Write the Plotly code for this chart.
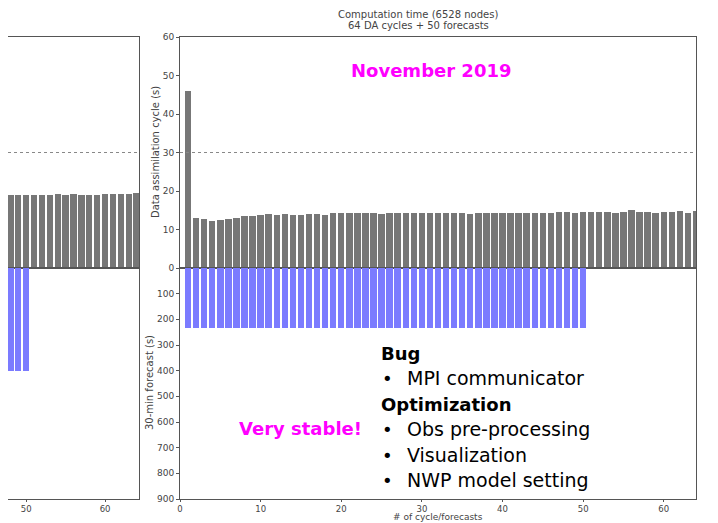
import plotly.graph_objects as go

# November 2019 run (right panel)
cycles = list(range(1, 65))
da_nov = [46.0, 12.9, 12.7, 12.3, 12.5, 12.8, 13.1, 13.5, 13.5, 13.7,
          13.9, 13.8, 13.9, 13.8, 13.7, 13.9, 13.9, 13.7, 14.3, 14.3,
          14.3, 14.2, 14.3, 14.2, 14.1, 14.3, 14.2, 14.2, 14.3, 14.3,
          14.3, 14.3, 14.2, 14.3, 14.2, 14.0, 14.3, 14.3, 14.3, 14.2,
          14.3, 14.2, 14.3, 14.3, 14.3, 14.4, 14.5, 14.5, 14.4, 14.6,
          14.6, 14.5, 14.5, 14.3, 14.5, 15.0, 14.6, 14.5, 14.4, 14.5,
          14.6, 14.8, 14.4, 14.8]
fc_cycles = list(range(1, 51))
fc_nov = [235, 235, 235, 235, 235, 235, 235, 235, 235, 235,
          235, 235, 235, 235, 235, 235, 235, 235, 235, 235,
          235, 235, 235, 235, 235, 235, 235, 235, 235, 235,
          235, 235, 235, 235, 235, 235, 235, 235, 235, 235,
          235, 235, 235, 235, 235, 235, 235, 235, 235, 235]

# previous run (left panel, only the visible tail)
prev_cycles = list(range(48, 65))
da_prev = [18.9, 18.9, 18.9, 18.9, 18.9, 18.9, 19.1, 19.0, 19.1, 19.0,
           18.9, 19.0, 19.1, 19.2, 19.3, 19.3, 19.4]
prev_fc_cycles = [48, 49, 50]
fc_prev = [400, 400, 400]

x_ticks = [0, 10, 20, 30, 40, 50, 60]
da_ticks = [0, 10, 20, 30, 40, 50, 60]
fc_ticks = [100, 200, 300, 400, 500, 600, 700, 800, 900]

W, H = 718, 523
OFF = 8  # page body margin of the browser
FONT = "DejaVu Sans, sans-serif"
GRAY = "#777777"
BLUE = "#7b7bff"
LINE = "#555555"
MAGENTA = "#ff00ff"


def px_x(p):
    return (p - OFF) / W


def px_y(p):
    return 1 - (p - OFF) / H


def note(fig, x, y, text, size, color="#444", xanchor="center", angle=0):
    fig.add_annotation(x=px_x(x), y=px_y(y), xref="paper", yref="paper",
                       text=text, showarrow=False, textangle=angle,
                       xanchor=xanchor, yanchor="middle", align="center",
                       font=dict(family=FONT, size=size, color=color))


top_dom = [px_y(268), px_y(37)]
bot_dom = [px_y(499), px_y(268)]
right_dom = [px_x(180), px_x(696)]
left_dom = [max(px_x(8), 0), px_x(139)]

fig = go.Figure()
fig.add_trace(go.Bar(x=cycles, y=da_nov, width=0.8, marker_color=GRAY,
                     marker_line_width=0, xaxis="x", yaxis="y"))
fig.add_trace(go.Bar(x=fc_cycles, y=fc_nov, width=0.8, marker_color=BLUE,
                     marker_line_width=0, xaxis="x2", yaxis="y2"))
fig.add_trace(go.Bar(x=prev_cycles, y=da_prev, width=0.8, marker_color=GRAY,
                     marker_line_width=0, xaxis="x3", yaxis="y3"))
fig.add_trace(go.Bar(x=prev_fc_cycles, y=fc_prev, width=0.8, marker_color=BLUE,
                     marker_line_width=0, xaxis="x4", yaxis="y4"))

tickfont = dict(family=FONT, size=9, color="#444")
base = dict(showline=True, linecolor=LINE, linewidth=1, showgrid=False,
            zeroline=False, automargin=False)
ticked = dict(tickfont=tickfont, ticks="outside", ticklen=3, tickcolor=LINE)
xticked = dict(tickfont=dict(family=FONT, size=8.5, color="#444"),
               ticks="outside", ticklen=2, tickcolor=LINE)
hidden = dict(showticklabels=False, ticks="")

fig.update_layout(
    width=W, height=H,
    margin=dict(l=0, r=0, t=0, b=0, autoexpand=False),
    paper_bgcolor="white", plot_bgcolor="white",
    showlegend=False, bargap=0,
    font=dict(family=FONT, size=10, color="#333"),
    xaxis=dict(domain=right_dom, anchor="y", range=[0, 64], mirror=True,
               **base, **hidden),
    yaxis=dict(domain=top_dom, anchor="x", range=[0, 60], tickvals=da_ticks,
               mirror=True, **base, **ticked),
    xaxis2=dict(domain=right_dom, anchor="y2", range=[0, 64], tickvals=x_ticks,
                mirror=True, **base, **xticked),
    yaxis2=dict(domain=bot_dom, anchor="x2", range=[900, 0], tickvals=fc_ticks,
                mirror=True, **base, **ticked),
    xaxis3=dict(domain=left_dom, anchor="y3", range=[47.7, 64.3], mirror=True,
                **base, **hidden),
    yaxis3=dict(domain=top_dom, anchor="x3", range=[0, 60], side="right",
                **base, **hidden),
    xaxis4=dict(domain=left_dom, anchor="y4", range=[47.7, 64.3], tickvals=[50, 60],
                mirror=True, **base, **xticked),
    yaxis4=dict(domain=bot_dom, anchor="x4", range=[900, 0], side="right",
                **base, **hidden),
)

# 30 s reference line
for xr, yr in [("x domain", "y"), ("x3 domain", "y3")]:
    fig.add_shape(type="line", xref=xr, yref=yr, x0=0, x1=1, y0=30, y1=30,
                  line=dict(color="#888", width=1, dash="dot"))

# title and axis titles
note(fig, 418, 14, "Computation time (6528 nodes)", 10)
note(fig, 418, 25, "64 DA cycles + 50 forecasts", 10)
note(fig, 155, 152, "Data assimilation cycle (s)", 10, angle=-90)
note(fig, 149, 383, "30-min forecast (s)", 10, angle=-90)
note(fig, 438, 516.5, "# of cycle/forecasts", 9)

note(fig, 431, 70, "<b>November 2019</b>", 18, MAGENTA)
note(fig, 300, 428, "<b>Very stable!</b>", 18, MAGENTA)

headers = [("<b>Bug</b>", 353), ("<b>Optimization</b>", 404)]
items = [("MPI communicator", 378), ("Obs pre-processing", 429),
         ("Visualization", 455), ("NWP model setting", 480)]
for txt, yy in headers:
    note(fig, 379, yy, txt, 18, "black", xanchor="left")
for txt, yy in items:
    note(fig, 380, yy, "•", 18, "black", xanchor="left")
    note(fig, 405, yy, txt, 19, "black", xanchor="left")

fig.write_html("out.html")
